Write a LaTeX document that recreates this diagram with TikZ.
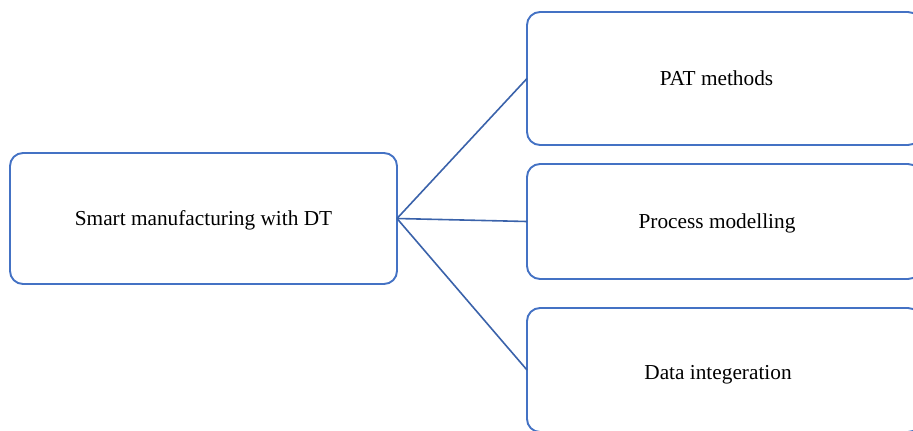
\documentclass[tikz,border=0pt]{standalone}
\usepackage{fontspec}
\setmainfont{Liberation Serif}
\definecolor{boxblue}{HTML}{4472C4}
\definecolor{lineblue}{HTML}{3A62AA}
\begin{document}
\begin{tikzpicture}[x=1pt,y=-1pt,
  box/.style={draw=boxblue,line width=1.9pt,rounded corners=13pt,fill=white,inner sep=0pt,outer sep=0pt},
  lbl/.style={anchor=base,inner sep=0pt,font=\fontsize{21.3pt}{25pt}\selectfont},
  conn/.style={draw=lineblue,line width=1.6pt}]
\useasboundingbox (0,0) rectangle (913,431);
\clip (0,0) rectangle (913,431);
\node[box,minimum width=387pt,minimum height=131pt] (main) at (203.5,218.5) {};
\node[box,minimum width=394pt,minimum height=133pt] (pat) at (724,78.5) {};
\node[box,minimum width=394pt,minimum height=115pt] (proc) at (724,221.5) {};
\node[box,minimum width=394pt,minimum height=124pt] (data) at (724,370) {};
\node[lbl] (tmain) at (203.5,225) {Smart manufacturing with DT};
\node[lbl] (tpat) at (716.5,85) {PAT methods};
\node[lbl] (tproc) at (717,228) {Process modelling};
\node[lbl] (tdata) at (718,379) {Data integeration};
\draw[conn] (main.east) -- (pat.west);
\draw[conn] (main.east) -- (proc.west);
\draw[conn] (main.east) -- (data.west);
\end{tikzpicture}
\end{document}
